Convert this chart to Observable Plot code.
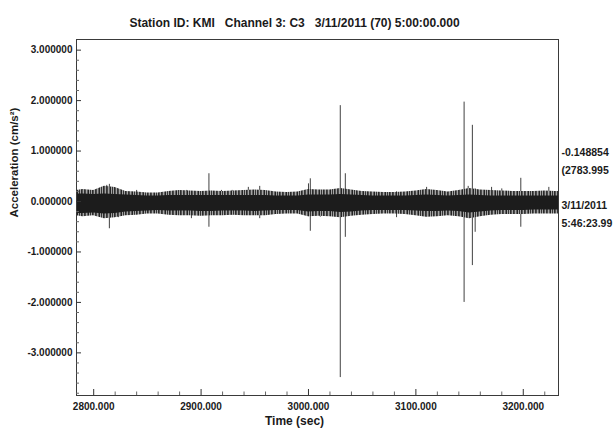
<!DOCTYPE html>
<html>
<head>
<meta charset="utf-8">
<script src="https://cdn.jsdelivr.net/npm/d3@7"></script>
<script src="https://cdn.jsdelivr.net/npm/@observablehq/plot@0.6"></script>
<style>
  html, body { margin: 0; padding: 0; background: #fff; }
</style>
</head>
<body>
<svg width="0" height="0" style="position:absolute">
  <defs>
    <pattern id="hair" width="11" height="6" patternUnits="userSpaceOnUse">
      <rect width="11" height="6" fill="#a4a4a4"/>
      <rect x="0" width="1" height="6" fill="#222"/>
      <rect x="2" width="1" height="6" fill="#333"/>
      <rect x="4" width="1" height="6" fill="#2a2a2a"/>
      <rect x="5" width="1" height="6" fill="#555"/>
      <rect x="7" width="1" height="6" fill="#333"/>
      <rect x="8" width="1" height="6" fill="#484848"/>
      <rect x="10" width="1" height="6" fill="#606060"/>
    </pattern>
  </defs>
</svg>
<div id="chart"></div>
<script>
// ---- Data ----
// Noise band envelope, sampled every ~10 s (time in s, acceleration in cm/s²)
const times      = [2784, 2790, 2800, 2810, 2820, 2830, 2840, 2850, 2860, 2870, 2880, 2890,
                    2900, 2910, 2920, 2930, 2940, 2950, 2960, 2970, 2980, 2990,
                    3000, 3010, 3020, 3030, 3040, 3050, 3060, 3070, 3080, 3090,
                    3100, 3110, 3120, 3130, 3140, 3150, 3160, 3170, 3180, 3190,
                    3200, 3210, 3220, 3230, 3233];
const coreUpper  = [0.15, 0.15, 0.14, 0.15, 0.14, 0.13, 0.12, 0.11, 0.11, 0.12, 0.12, 0.12,
                    0.12, 0.12, 0.12, 0.12, 0.12, 0.12, 0.12, 0.11, 0.11, 0.11,
                    0.13, 0.13, 0.13, 0.14, 0.13, 0.12, 0.11, 0.11, 0.11, 0.11,
                    0.12, 0.13, 0.12, 0.11, 0.12, 0.13, 0.12, 0.11, 0.11, 0.11,
                    0.11, 0.11, 0.11, 0.11, 0.11];
const coreLower  = [-0.24, -0.24, -0.23, -0.25, -0.24, -0.21, -0.20, -0.19, -0.18, -0.19, -0.19, -0.19,
                    -0.20, -0.20, -0.19, -0.19, -0.19, -0.20, -0.19, -0.18, -0.18, -0.18,
                    -0.21, -0.20, -0.20, -0.22, -0.21, -0.19, -0.18, -0.18, -0.18, -0.18,
                    -0.19, -0.20, -0.20, -0.19, -0.20, -0.23, -0.21, -0.19, -0.18, -0.18,
                    -0.18, -0.17, -0.17, -0.17, -0.17];
const peakUpper  = [0.22, 0.24, 0.22, 0.30, 0.28, 0.20, 0.19, 0.17, 0.17, 0.20, 0.22, 0.21,
                    0.20, 0.21, 0.20, 0.21, 0.22, 0.23, 0.22, 0.19, 0.18, 0.19,
                    0.24, 0.23, 0.23, 0.26, 0.23, 0.20, 0.19, 0.18, 0.18, 0.19,
                    0.21, 0.24, 0.22, 0.19, 0.22, 0.26, 0.23, 0.22, 0.21, 0.20,
                    0.20, 0.20, 0.21, 0.20, 0.20];
const peakLower  = [-0.28, -0.30, -0.28, -0.34, -0.32, -0.28, -0.27, -0.25, -0.25, -0.27, -0.28, -0.28,
                    -0.29, -0.28, -0.28, -0.27, -0.28, -0.28, -0.28, -0.26, -0.25, -0.25,
                    -0.30, -0.29, -0.30, -0.32, -0.29, -0.27, -0.26, -0.25, -0.25, -0.26,
                    -0.28, -0.31, -0.30, -0.28, -0.30, -0.34, -0.30, -0.27, -0.26, -0.26,
                    -0.26, -0.25, -0.25, -0.25, -0.25];

// Individual spikes (time, peak, trough)
const spikeTimes   = [2812.2, 2814.6, 2816.8, 2823, 2840, 2886.6, 2891, 2907.3, 2919, 2929, 2944, 2954.6,
                      3000, 3001.7, 3011, 3029.6, 3034.3, 3082, 3110, 3144.9, 3148.7, 3152.6, 3155.2,
                      3170.5, 3180, 3197.7, 3223.8];
const spikeTops    = [0.32, 0.34, 0.28, 0.20, 0.22, 0.22, 0.18, 0.55, 0.22, 0.22, 0.28, 0.30,
                      0.35, 0.45, 0.22, 1.90, 0.55, 0.19, 0.28, 1.97, 0.30, 1.51, 0.25,
                      0.28, 0.25, 0.46, 0.28];
const spikeBottoms = [-0.28, -0.54, -0.30, -0.32, -0.26, -0.27, -0.34, -0.51, -0.26, -0.27, -0.27, -0.34,
                      -0.30, -0.59, -0.31, -3.49, -0.71, -0.32, -0.30, -2.00, -0.32, -1.27, -0.61,
                      -0.26, -0.25, -0.51, -0.22];

// Axis ticks
const xTicks      = [2800, 2900, 3000, 3100, 3200];
const xMinorTicks = [2820, 2840, 2860, 2880, 2920, 2940, 2960, 2980, 3020, 3040, 3060, 3080,
                     3120, 3140, 3160, 3180, 3220];
const yTicks      = [-3, -2, -1, 0, 1, 2, 3];
const yMinorTicks = [-3.8, -3.6, -3.4, -3.2, -2.8, -2.6, -2.4, -2.2, -1.8, -1.6, -1.4, -1.2,
                     -0.8, -0.6, -0.4, -0.2, 0.2, 0.4, 0.6, 0.8, 1.2, 1.4, 1.6, 1.8,
                     2.2, 2.4, 2.6, 2.8];
const xDomain = [2783.995, 3232.8];
const yDomain = [-3.845, 3.211];

const titleText  = "Station ID: KMI \u00a0 Channel 3: C3 \u00a0 3/11/2011 (70) 5:00:00.000";
const xTitle     = "Time (sec)";
const yTitle     = "Acceleration (cm/s²)";
const sideLabels = ["-0.148854", "(2783.995", "3/11/2011", "5:46:23.99"];

// ---- Build tables ----
const band = times.map((t, i) => ({t, cu: coreUpper[i], cl: coreLower[i], pu: peakUpper[i], pl: peakLower[i]}));
const spikes = spikeTimes.map((t, i) => ({t, hi: spikeTops[i], lo: spikeBottoms[i]}));

const W = 615, H = 429, mL = 76, mR = 57, mT = 39, mB = 34;
const fw = W - mL - mR, fh = H - mT - mB;

const chart = Plot.plot({
  width: W, height: H,
  marginLeft: mL, marginRight: mR, marginTop: mT, marginBottom: mB,
  x: {domain: xDomain, label: null},
  y: {domain: yDomain, label: null},
  style: {fontFamily: "'Liberation Sans', Arial, sans-serif", fontSize: "10px", fontWeight: "bold", color: "#1a1a1a", background: "#fff", overflow: "visible"},
  marks: [
    Plot.ruleX(spikes, {x: "t", y1: "lo", y2: "hi", stroke: "#404040", strokeWidth: 1}),
    Plot.areaY(band, {x: "t", y1: "pl", y2: "pu", fill: "url(#hair)"}),
    Plot.areaY(band, {x: "t", y1: "cl", y2: "cu", fill: "#1c1c1c"}),
    Plot.frame({stroke: "#3a3a3a"}),
    Plot.tickY(yTicks, {y: d => d, insetRight: fw - 5, stroke: "#333"}),
    Plot.tickY(yMinorTicks, {y: d => d, insetRight: fw - 3, stroke: "#666"}),
    Plot.tickX(xTicks, {x: d => d, insetTop: fh - 6, stroke: "#333"}),
    Plot.tickX(xMinorTicks, {x: d => d, insetTop: fh - 3.5, stroke: "#666"}),
    Plot.axisY(yTicks, {tickSize: 0, tickPadding: 4, tickFormat: d => d.toFixed(6), label: null, fill: "#1a1a1a"}),
    Plot.axisX(xTicks, {tickSize: 0, tickPadding: 7.5, tickFormat: d => d.toFixed(3), label: null, fill: "#1a1a1a"}),
    Plot.text([titleText], {frameAnchor: "top", dx: -23, dy: -21.5, text: d => d, fontSize: 12, fill: "#1a1a1a"}),
    Plot.text([xTitle], {frameAnchor: "bottom", dx: -23, dy: 29, text: d => d, fontSize: 12, fill: "#1a1a1a"}),
    Plot.text([yTitle], {frameAnchor: "left", dx: -62.5, dy: 0, rotate: -90, text: d => d, fontSize: 11.5, fill: "#1a1a1a"}),
    Plot.text([sideLabels[0]], {frameAnchor: "right", textAnchor: "start", dx: 3, dy: -65, text: d => d, fontSize: 10.5, fill: "#1a1a1a"}),
    Plot.text([sideLabels[1]], {frameAnchor: "right", textAnchor: "start", dx: 3, dy: -47, text: d => d, fontSize: 10.5, fill: "#1a1a1a"}),
    Plot.text([sideLabels[2]], {frameAnchor: "right", textAnchor: "start", dx: 3, dy: -12, text: d => d, fontSize: 10.5, fill: "#1a1a1a"}),
    Plot.text([sideLabels[3]], {frameAnchor: "right", textAnchor: "start", dx: 3, dy: 6, text: d => d, fontSize: 10.5, fill: "#1a1a1a"})
  ]
});
document.getElementById("chart").appendChild(chart);
</script>
</body>
</html>
